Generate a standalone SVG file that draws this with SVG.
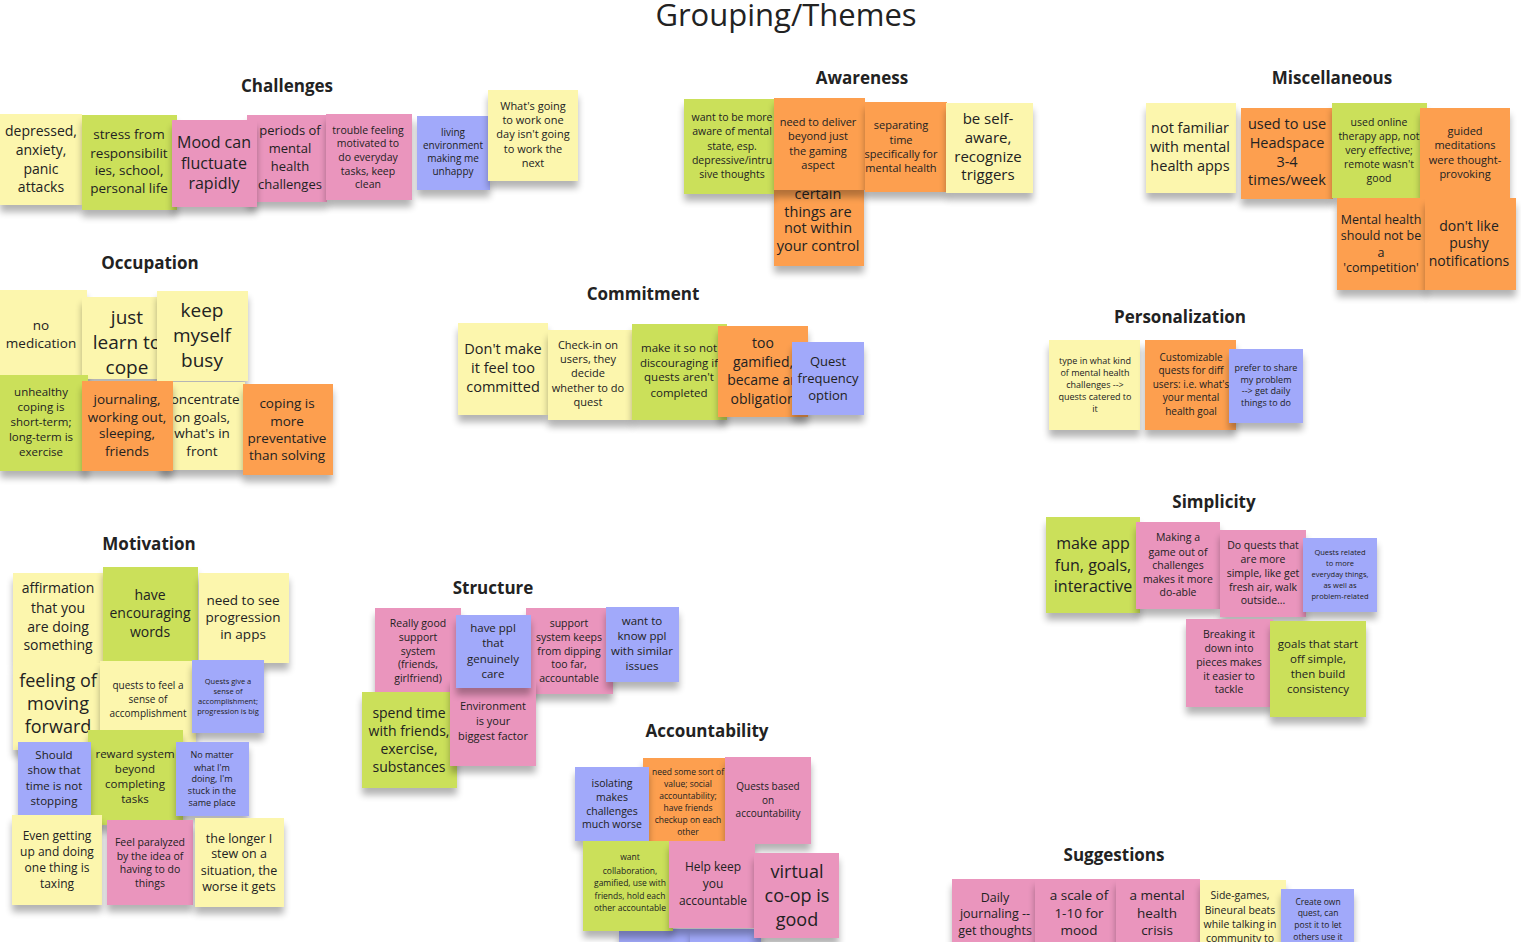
<svg xmlns="http://www.w3.org/2000/svg" width="1521" height="942" viewBox="0 0 1521 942">
<defs>
<filter id="sh" x="-15%" y="-15%" width="130%" height="145%">
<feGaussianBlur in="SourceAlpha" stdDeviation="3.5"/>
<feOffset dy="7"/>
<feComponentTransfer><feFuncA type="linear" slope="0.3"/></feComponentTransfer>
<feMerge><feMergeNode/><feMergeNode in="SourceGraphic"/></feMerge>
</filter>
</defs>
<style>
.n{filter:url(#sh)}
.y{fill:#fcf6ad}.g{fill:#cbe05a}.p{fill:#ea95bd}.o{fill:#fd9f4f}.b{fill:#a1a9fa}
.t{font-family:"Open Sans",sans-serif;fill:#222;text-anchor:middle}
.h{font-family:"Open Sans",sans-serif;font-weight:700;font-size:17px;fill:#222;text-anchor:middle}
</style>
<rect width="1521" height="942" fill="#fff"/>
<text class="t" x="786" y="26" font-size="31" fill="#222">Grouping/Themes</text>

<!-- Challenges -->
<g id="challenges">
<text class="h" x="287" y="92">Challenges</text>
<g id="c1"><rect class="n y" x="0" y="114" width="82" height="91"/><text class="t" font-size="14"><tspan x="41" y="136">depressed,</tspan><tspan x="41" y="155">anxiety,</tspan><tspan x="41" y="174">panic</tspan><tspan x="41" y="192">attacks</tspan></text></g>
<g id="c2"><rect class="n g" x="82" y="115" width="95" height="95"/><text class="t" font-size="13.5"><tspan x="129" y="139">stress from</tspan><tspan x="129" y="158">responsibilit</tspan><tspan x="129" y="175">ies, school,</tspan><tspan x="129" y="193">personal life</tspan></text></g>
<g id="c4"><rect class="n p" x="247" y="115" width="80" height="87"/><text class="t" font-size="13"><tspan x="290" y="135">periods of</tspan><tspan x="290" y="153">mental</tspan><tspan x="290" y="171">health</tspan><tspan x="290" y="189">challenges</tspan></text></g>
<g id="c3"><rect class="n p" x="172" y="120" width="85" height="87"/><text class="t" font-size="16"><tspan x="214" y="148">Mood can</tspan><tspan x="214" y="169">fluctuate</tspan><tspan x="214" y="189">rapidly</tspan></text></g>
<g id="c5"><rect class="n p" x="326" y="114" width="86" height="86"/><text class="t" font-size="10.5"><tspan x="368" y="134">trouble feeling</tspan><tspan x="368" y="147">motivated to</tspan><tspan x="368" y="161">do everyday</tspan><tspan x="368" y="175">tasks, keep</tspan><tspan x="368" y="188">clean</tspan></text></g>
<g id="c6"><rect class="n b" x="417" y="116" width="73" height="74"/><text class="t" font-size="10"><tspan x="453" y="136">living</tspan><tspan x="453" y="149">environment</tspan><tspan x="453" y="162">making me</tspan><tspan x="453" y="175">unhappy</tspan></text></g>
<g id="c7"><rect class="n y" x="488" y="90" width="90" height="91"/><text class="t" font-size="11"><tspan x="533" y="110">What's going</tspan><tspan x="533" y="124">to work one</tspan><tspan x="533" y="138">day isn't going</tspan><tspan x="533" y="153">to work the</tspan><tspan x="533" y="167">next</tspan></text></g>
</g>

<!-- Awareness -->
<g id="awareness">
<text class="h" x="862" y="84">Awareness</text>
<g id="a3"><rect class="n o" x="774" y="180" width="90" height="86"/><text class="t" font-size="14.5"><tspan x="818" y="199">certain</tspan><tspan x="818" y="217">things are</tspan><tspan x="818" y="233">not within</tspan><tspan x="818" y="251">your control</tspan></text></g>
<g id="a1"><rect class="n g" x="684" y="99" width="90" height="95"/><text class="t" font-size="10.5"><tspan x="732" y="121">want to be more</tspan><tspan x="732" y="135">aware of mental</tspan><tspan x="732" y="150">state, esp.</tspan><tspan x="732" y="164">depressive/intru</tspan><tspan x="732" y="178">sive thoughts</tspan></text></g>
<g id="a2"><rect class="n o" x="774" y="98" width="91" height="92"/><text class="t" font-size="11"><tspan x="818" y="126">need to deliver</tspan><tspan x="818" y="140">beyond just</tspan><tspan x="818" y="155">the gaming</tspan><tspan x="818" y="169">aspect</tspan></text></g>
<g id="a4"><rect class="n o" x="865" y="102" width="82" height="90"/><text class="t" font-size="11"><tspan x="901" y="129">separating</tspan><tspan x="901" y="144">time</tspan><tspan x="901" y="158">specifically for</tspan><tspan x="901" y="172">mental health</tspan></text></g>
<g id="a5"><rect class="n y" x="946" y="103" width="87" height="90"/><text class="t" font-size="15"><tspan x="988" y="124">be self-</tspan><tspan x="988" y="143">aware,</tspan><tspan x="988" y="162">recognize</tspan><tspan x="988" y="180">triggers</tspan></text></g>
</g>

<!-- Miscellaneous -->
<g id="misc">
<text class="h" x="1332" y="84">Miscellaneous</text>
<g id="m1"><rect class="n y" x="1146" y="103" width="90" height="90"/><text class="t" font-size="14.5"><tspan x="1190" y="133">not familiar</tspan><tspan x="1190" y="152">with mental</tspan><tspan x="1190" y="171">health apps</tspan></text></g>
<g id="m2"><rect class="n o" x="1241" y="108" width="92" height="91"/><text class="t" font-size="14.5"><tspan x="1287" y="129">used to use</tspan><tspan x="1287" y="148">Headspace</tspan><tspan x="1287" y="167">3-4</tspan><tspan x="1287" y="185">times/week</tspan></text></g>
<g id="m3"><rect class="n g" x="1332" y="103" width="95" height="95"/><text class="t" font-size="10.5"><tspan x="1379" y="126">used online</tspan><tspan x="1379" y="140">therapy app, not</tspan><tspan x="1379" y="154">very effective;</tspan><tspan x="1379" y="168">remote wasn't</tspan><tspan x="1379" y="182">good</tspan></text></g>
<g id="m4"><rect class="n o" x="1420" y="108" width="90" height="90"/><text class="t" font-size="11"><tspan x="1465" y="135">guided</tspan><tspan x="1465" y="149">meditations</tspan><tspan x="1465" y="164">were thought-</tspan><tspan x="1465" y="178">provoking</tspan></text></g>
<g id="m5"><rect class="n o" x="1337" y="198" width="90" height="92"/><text class="t" font-size="12.5"><tspan x="1381" y="224">Mental health</tspan><tspan x="1381" y="240">should not be</tspan><tspan x="1381" y="257">a</tspan><tspan x="1381" y="272">'competition'</tspan></text></g>
<g id="m6"><rect class="n o" x="1425" y="198" width="91" height="92"/><text class="t" font-size="14"><tspan x="1469" y="231">don't like</tspan><tspan x="1469" y="248">pushy</tspan><tspan x="1469" y="266">notifications</tspan></text></g>
</g>

<!-- Occupation -->
<g id="occupation">
<text class="h" x="150" y="269">Occupation</text>
<g id="o1"><rect class="n y" x="0" y="290" width="87" height="88"/><text class="t" font-size="13.5"><tspan x="41" y="330">no</tspan><tspan x="41" y="348">medication</tspan></text></g>
<g id="o2"><rect class="n y" x="82" y="297" width="80" height="82"/><text class="t" font-size="19"><tspan x="127" y="324">just</tspan><tspan x="127" y="349">learn to</tspan><tspan x="127" y="374">cope</tspan></text></g>
<g id="o3"><rect class="n y" x="157" y="291" width="91" height="90"/><text class="t" font-size="19"><tspan x="202" y="317">keep</tspan><tspan x="202" y="342">myself</tspan><tspan x="202" y="367">busy</tspan></text></g>
<g id="o4"><rect class="n g" x="0" y="375" width="88" height="96"/><text class="t" font-size="11.5"><tspan x="41" y="396">unhealthy</tspan><tspan x="41" y="411">coping is</tspan><tspan x="41" y="426">short-term;</tspan><tspan x="41" y="441">long-term is</tspan><tspan x="41" y="456">exercise</tspan></text></g>
<g id="o6"><rect class="n y" x="160" y="382" width="85" height="88"/><text class="t" font-size="13.5"><tspan x="202" y="404">concentrate</tspan><tspan x="202" y="422">on goals,</tspan><tspan x="202" y="438">what's in</tspan><tspan x="202" y="456">front</tspan></text></g>
<g id="o5"><rect class="n o" x="82" y="381" width="91" height="90"/><text class="t" font-size="13.5"><tspan x="127" y="404">journaling,</tspan><tspan x="127" y="422">working out,</tspan><tspan x="127" y="438">sleeping,</tspan><tspan x="127" y="456">friends</tspan></text></g>
<g id="o7"><rect class="n o" x="243" y="384" width="90" height="91"/><text class="t" font-size="13.5"><tspan x="287" y="408">coping is</tspan><tspan x="287" y="426">more</tspan><tspan x="287" y="443">preventative</tspan><tspan x="287" y="460">than solving</tspan></text></g>
</g>

<!-- Commitment -->
<g id="commitment">
<text class="h" x="643" y="300">Commitment</text>
<g id="cm1"><rect class="n y" x="458" y="323" width="90" height="92"/><text class="t" font-size="14.5"><tspan x="503" y="354">Don't make</tspan><tspan x="503" y="373">it feel too</tspan><tspan x="503" y="392">committed</tspan></text></g>
<g id="cm2"><rect class="n y" x="548" y="330" width="85" height="90"/><text class="t" font-size="11"><tspan x="588" y="349">Check-in on</tspan><tspan x="588" y="363">users, they</tspan><tspan x="588" y="377">decide</tspan><tspan x="588" y="392">whether to do</tspan><tspan x="588" y="406">quest</tspan></text></g>
<g id="cm3"><rect class="n g" x="632" y="324" width="95" height="96"/><text class="t" font-size="11.5"><tspan x="679" y="352">make it so not</tspan><tspan x="679" y="367">discouraging if</tspan><tspan x="679" y="381">quests aren't</tspan><tspan x="679" y="397">completed</tspan></text></g>
<g id="cm4"><rect class="n o" x="718" y="326" width="90" height="91"/><text class="t" font-size="14"><tspan x="763" y="348">too</tspan><tspan x="763" y="367">gamified,</tspan><tspan x="763" y="385">became an</tspan><tspan x="763" y="404">obligation</tspan></text></g>
<g id="cm5"><rect class="n b" x="792" y="342" width="72" height="73"/><text class="t" font-size="13"><tspan x="828" y="366">Quest</tspan><tspan x="828" y="383">frequency</tspan><tspan x="828" y="400">option</tspan></text></g>
</g>

<!-- Personalization -->
<g id="personalization">
<text class="h" x="1180" y="323">Personalization</text>
<g id="p1"><rect class="n y" x="1049" y="340" width="91" height="90"/><text class="t" font-size="9"><tspan x="1095" y="364">type in what kind</tspan><tspan x="1095" y="376">of mental health</tspan><tspan x="1095" y="388">challenges --&gt;</tspan><tspan x="1095" y="400">quests catered to</tspan><tspan x="1095" y="412">it</tspan></text></g>
<g id="p2"><rect class="n o" x="1145" y="340" width="91" height="90"/><text class="t" font-size="10"><tspan x="1191" y="361">Customizable</tspan><tspan x="1191" y="374">quests for diff</tspan><tspan x="1191" y="388">users: i.e. what's</tspan><tspan x="1191" y="401">your mental</tspan><tspan x="1191" y="415">health goal</tspan></text></g>
<g id="p3"><rect class="n b" x="1229" y="349" width="74" height="74"/><text class="t" font-size="9"><tspan x="1266" y="371">prefer to share</tspan><tspan x="1266" y="383">my problem</tspan><tspan x="1266" y="394">--&gt; get daily</tspan><tspan x="1266" y="406">things to do</tspan></text></g>
</g>

<!-- Motivation -->
<g id="motivation">
<text class="h" x="149" y="550">Motivation</text>
<g id="mo1"><rect class="n y" x="13" y="573" width="90" height="90"/><text class="t" font-size="14"><tspan x="58" y="593">affirmation</tspan><tspan x="58" y="613">that you</tspan><tspan x="58" y="632">are doing</tspan><tspan x="58" y="650">something</tspan></text></g>
<g id="mo2"><rect class="n g" x="103" y="567" width="95" height="96"/><text class="t" font-size="14"><tspan x="150" y="600">have</tspan><tspan x="150" y="618">encouraging</tspan><tspan x="150" y="637">words</tspan></text></g>
<g id="mo3"><rect class="n y" x="199" y="573" width="90" height="90"/><text class="t" font-size="13.5"><tspan x="243" y="605">need to see</tspan><tspan x="243" y="622">progression</tspan><tspan x="243" y="639">in apps</tspan></text></g>
<g id="mo4"><rect class="n y" x="13" y="663" width="92" height="87"/><text class="t" font-size="18"><tspan x="58" y="687">feeling of</tspan><tspan x="58" y="710">moving</tspan><tspan x="58" y="733">forward</tspan></text></g>
<g id="mo5"><rect class="n y" x="100" y="661" width="96" height="87"/><text class="t" font-size="10"><tspan x="148" y="689">quests to feel a</tspan><tspan x="148" y="703">sense of</tspan><tspan x="148" y="717">accomplishment</tspan></text></g>
<g id="mo6"><rect class="n b" x="192" y="660" width="72" height="73"/><text class="t" font-size="7.5"><tspan x="228" y="684">Quests give a</tspan><tspan x="228" y="694">sense of</tspan><tspan x="228" y="704">accomplishment;</tspan><tspan x="228" y="714">progression is big</tspan></text></g>
<g id="mo8"><rect class="n g" x="88" y="730" width="95" height="95"/><text class="t" font-size="11.5"><tspan x="135" y="758">reward system</tspan><tspan x="135" y="773">beyond</tspan><tspan x="135" y="788">completing</tspan><tspan x="135" y="803">tasks</tspan></text></g>
<g id="mo7"><rect class="n b" x="18" y="742" width="73" height="73"/><text class="t" font-size="11.5"><tspan x="54" y="759">Should</tspan><tspan x="54" y="774">show that</tspan><tspan x="54" y="790">time is not</tspan><tspan x="54" y="805">stopping</tspan></text></g>
<g id="mo9"><rect class="n b" x="176" y="742" width="73" height="74"/><text class="t" font-size="9"><tspan x="212" y="758">No matter</tspan><tspan x="212" y="771">what I'm</tspan><tspan x="212" y="782">doing, I'm</tspan><tspan x="212" y="794">stuck in the</tspan><tspan x="212" y="806">same place</tspan></text></g>
<g id="mo10"><rect class="n y" x="12" y="815" width="90" height="90"/><text class="t" font-size="12"><tspan x="57" y="840">Even getting</tspan><tspan x="57" y="856">up and doing</tspan><tspan x="57" y="872">one thing is</tspan><tspan x="57" y="888">taxing</tspan></text></g>
<g id="mo11"><rect class="n p" x="107" y="820" width="86" height="85"/><text class="t" font-size="10.5"><tspan x="150" y="846">Feel paralyzed</tspan><tspan x="150" y="860">by the idea of</tspan><tspan x="150" y="873">having to do</tspan><tspan x="150" y="887">things</tspan></text></g>
<g id="mo12"><rect class="n y" x="195" y="818" width="89" height="89"/><text class="t" font-size="12.5"><tspan x="239" y="843">the longer I</tspan><tspan x="239" y="858">stew on a</tspan><tspan x="239" y="875">situation, the</tspan><tspan x="239" y="891">worse it gets</tspan></text></g>
</g>

<!-- Structure -->
<g id="structure">
<text class="h" x="493" y="594">Structure</text>
<g id="s1"><rect class="n p" x="375" y="608" width="86" height="86"/><text class="t" font-size="10.5"><tspan x="418" y="627">Really good</tspan><tspan x="418" y="641">support</tspan><tspan x="418" y="655">system</tspan><tspan x="418" y="668">(friends,</tspan><tspan x="418" y="682">girlfriend)</tspan></text></g>
<g id="s3"><rect class="n p" x="526" y="608" width="87" height="86"/><text class="t" font-size="10.5"><tspan x="569" y="627">support</tspan><tspan x="569" y="641">system keeps</tspan><tspan x="569" y="655">from dipping</tspan><tspan x="569" y="668">too far,</tspan><tspan x="569" y="682">accountable</tspan></text></g>
<g id="s5"><rect class="n g" x="362" y="692" width="95" height="96"/><text class="t" font-size="14"><tspan x="409" y="718">spend time</tspan><tspan x="409" y="736">with friends,</tspan><tspan x="409" y="754">exercise,</tspan><tspan x="409" y="772">substances</tspan></text></g>
<g id="s6"><rect class="n p" x="450" y="678" width="86" height="88"/><text class="t" font-size="11"><tspan x="493" y="710">Environment</tspan><tspan x="493" y="725">is your</tspan><tspan x="493" y="740">biggest factor</tspan></text></g>
<g id="s2"><rect class="n b" x="456" y="615" width="75" height="73"/><text class="t" font-size="11.5"><tspan x="493" y="632">have ppl</tspan><tspan x="493" y="647">that</tspan><tspan x="493" y="663">genuinely</tspan><tspan x="493" y="678">care</tspan></text></g>
<g id="s4"><rect class="n b" x="606" y="607" width="73" height="75"/><text class="t" font-size="11.5"><tspan x="642" y="625">want to</tspan><tspan x="642" y="640">know ppl</tspan><tspan x="642" y="655">with similar</tspan><tspan x="642" y="670">issues</tspan></text></g>
</g>

<!-- Accountability -->
<g id="accountability">
<text class="h" x="707" y="737">Accountability</text>
<g id="ac7"><rect class="n b" x="619" y="929" width="71" height="70"/></g>
<g id="ac8"><rect class="n b" x="690" y="929" width="71" height="70"/></g>
<g id="ac2"><rect class="n o" x="643" y="758" width="85" height="90"/><text class="t" font-size="8.5"><tspan x="688" y="775">need some sort of</tspan><tspan x="688" y="787">value; social</tspan><tspan x="688" y="799">accountability;</tspan><tspan x="688" y="811">have friends</tspan><tspan x="688" y="823">checkup on each</tspan><tspan x="688" y="835">other</tspan></text></g>
<g id="ac1"><rect class="n b" x="575" y="767" width="74" height="74"/><text class="t" font-size="10.5"><tspan x="612" y="787">isolating</tspan><tspan x="612" y="801">makes</tspan><tspan x="612" y="815">challenges</tspan><tspan x="612" y="828">much worse</tspan></text></g>
<g id="ac3"><rect class="n p" x="725" y="757" width="86" height="87"/><text class="t" font-size="10"><tspan x="768" y="790">Quests based</tspan><tspan x="768" y="804">on</tspan><tspan x="768" y="817">accountability</tspan></text></g>
<g id="ac4"><rect class="n g" x="583" y="841" width="90" height="90"/><text class="t" font-size="8.5"><tspan x="630" y="860">want</tspan><tspan x="630" y="874">collaboration,</tspan><tspan x="630" y="886">gamified, use with</tspan><tspan x="630" y="899">friends, hold each</tspan><tspan x="630" y="911">other accountable</tspan></text></g>
<g id="ac5"><rect class="n p" x="669" y="841" width="86" height="87"/><text class="t" font-size="12"><tspan x="713" y="871">Help keep</tspan><tspan x="713" y="888">you</tspan><tspan x="713" y="905">accountable</tspan></text></g>
<g id="ac6"><rect class="n p" x="754" y="853" width="85" height="85"/><text class="t" font-size="18"><tspan x="797" y="878">virtual</tspan><tspan x="797" y="902">co-op is</tspan><tspan x="797" y="926">good</tspan></text></g>
</g>

<!-- Simplicity -->
<g id="simplicity">
<text class="h" x="1214" y="508">Simplicity</text>
<g id="si1"><rect class="n g" x="1046" y="517" width="94" height="96"/><text class="t" font-size="16"><tspan x="1093" y="549">make app</tspan><tspan x="1093" y="571">fun, goals,</tspan><tspan x="1093" y="592">interactive</tspan></text></g>
<g id="si2"><rect class="n p" x="1136" y="522" width="84" height="87"/><text class="t" font-size="10.5"><tspan x="1178" y="541">Making a</tspan><tspan x="1178" y="556">game out of</tspan><tspan x="1178" y="569">challenges</tspan><tspan x="1178" y="583">makes it more</tspan><tspan x="1178" y="596">do-able</tspan></text></g>
<g id="si3"><rect class="n p" x="1220" y="530" width="86" height="87"/><text class="t" font-size="10.5"><tspan x="1263" y="549">Do quests that</tspan><tspan x="1263" y="563">are more</tspan><tspan x="1263" y="577">simple, like get</tspan><tspan x="1263" y="591">fresh air, walk</tspan><tspan x="1263" y="604">outside...</tspan></text></g>
<g id="si4"><rect class="n b" x="1303" y="538" width="74" height="74"/><text class="t" font-size="7.5"><tspan x="1340" y="555">Quests related</tspan><tspan x="1340" y="566">to more</tspan><tspan x="1340" y="577">everyday things,</tspan><tspan x="1340" y="588">as well as</tspan><tspan x="1340" y="599">problem-related</tspan></text></g>
<g id="si5"><rect class="n p" x="1186" y="619" width="87" height="88"/><text class="t" font-size="10.5"><tspan x="1229" y="638">Breaking it</tspan><tspan x="1229" y="652">down into</tspan><tspan x="1229" y="666">pieces makes</tspan><tspan x="1229" y="680">it easier to</tspan><tspan x="1229" y="693">tackle</tspan></text></g>
<g id="si6"><rect class="n g" x="1270" y="621" width="96" height="96"/><text class="t" font-size="11.5"><tspan x="1318" y="648">goals that start</tspan><tspan x="1318" y="663">off simple,</tspan><tspan x="1318" y="678">then build</tspan><tspan x="1318" y="693">consistency</tspan></text></g>
</g>

<!-- Suggestions -->
<g id="suggestions">
<text class="h" x="1114" y="861">Suggestions</text>
<g id="su1"><rect class="n p" x="952" y="879" width="84" height="90"/><text class="t" font-size="12.5"><tspan x="995" y="902">Daily</tspan><tspan x="995" y="918">journaling --</tspan><tspan x="995" y="935">get thoughts</tspan></text></g>
<g id="su2"><rect class="n p" x="1035" y="879" width="84" height="90"/><text class="t" font-size="13.5"><tspan x="1079" y="900">a scale of</tspan><tspan x="1079" y="918">1-10 for</tspan><tspan x="1079" y="935">mood</tspan></text></g>
<g id="su3"><rect class="n p" x="1116" y="879" width="84" height="90"/><text class="t" font-size="13.5"><tspan x="1157" y="900">a mental</tspan><tspan x="1157" y="918">health</tspan><tspan x="1157" y="935">crisis</tspan></text></g>
<g id="su4"><rect class="n y" x="1200" y="880" width="86" height="90"/><text class="t" font-size="10.5"><tspan x="1240" y="899">Side-games,</tspan><tspan x="1240" y="914">Bineural beats</tspan><tspan x="1240" y="928">while talking in</tspan><tspan x="1240" y="942">community to</tspan></text></g>
<g id="su5"><rect class="n b" x="1281" y="889" width="73" height="74"/><text class="t" font-size="8.5"><tspan x="1318" y="905">Create own</tspan><tspan x="1318" y="916">quest, can</tspan><tspan x="1318" y="928">post it to let</tspan><tspan x="1318" y="940">others use it</tspan></text></g>
</g>
</svg>
